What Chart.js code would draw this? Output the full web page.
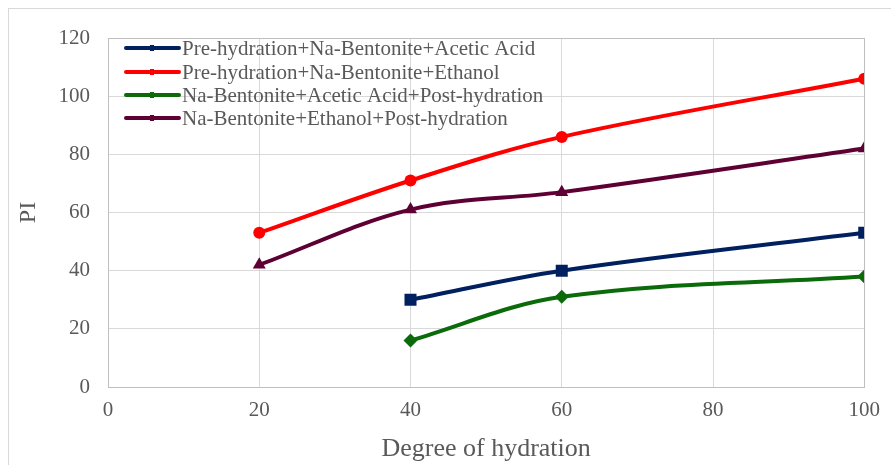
<!DOCTYPE html>
<html>
<head>
<meta charset="utf-8">
<script src="https://cdn.jsdelivr.net/npm/chart.js"></script>
<style>
body{margin:0;background:#fff;}
#wrap{width:891px;height:465px;position:relative;}
</style>
</head>
<body>
<div id="wrap"><canvas id="myChart" width="891" height="465"></canvas></div>
<script>
// values
const hydration=[20,40,60,100];
const labels=['Pre-hydration+Na-Bentonite+Acetic Acid','Pre-hydration+Na-Bentonite+Ethanol','Na-Bentonite+Acetic Acid+Post-hydration','Na-Bentonite+Ethanol+Post-hydration'];
const preAcetic=[null,30,40,53];
const preEthanol=[53,71,86,106];
const postAcetic=[null,16,31,38];
const postEthanol=[42,61,67,82];
const xTicks=[0,20,40,60,80,100];
const yTicks=[0,20,40,60,80,100,120];

const colors=['#002060','#ff0000','#0b6b0b','#5e0034'];
const markers=['rect','circle','rectRot','triangle'];
const sizes=[8.5,6,7,7.5];

const toPoints=vals=>hydration.map((h,i)=>({x:h,y:vals[i]})).filter(p=>p.y!==null);

let datasets=[preAcetic,preEthanol,postAcetic,postEthanol].map((vals,i)=>{
  return {
    label:labels[i],
    data:toPoints(vals),
    borderColor:colors[i],
    backgroundColor:colors[i],
    borderWidth:4,
    pointStyle:markers[i],
    pointRadius:sizes[i],
    pointBorderWidth:0,
    tension:0.35
  }
});

const frame={
  id:'frame',
  beforeDraw(chart){
    const c=chart.ctx;
    c.save();
    c.strokeStyle='#d9d9d9';
    c.lineWidth=1;
    c.strokeRect(8.5,8.5,1000,1000);
    c.restore();
  },
  afterDatasetsDraw(chart){
    const c=chart.ctx, a=chart.chartArea;
    c.save();
    c.strokeStyle='#bfbfbf';
    c.lineWidth=1;
    c.strokeRect(Math.round(a.left)+0.5,Math.round(a.top)+0.5,Math.round(a.right-a.left),Math.round(a.bottom-a.top));
    // legend inside the plot
    const rows=[48,72,95,118];
    chart.data.datasets.forEach((ds,i)=>{
      c.strokeStyle=ds.borderColor;
      c.lineWidth=4;
      c.lineCap='round';
      c.beginPath();
      c.moveTo(126,rows[i]);
      c.lineTo(179,rows[i]);
      c.stroke();
      c.fillStyle=ds.borderColor;
      c.fillRect(150,rows[i]-3,4,6);
      c.fillStyle='#595959';
      c.font='21px "Liberation Serif"';
      c.textBaseline='middle';
      c.textAlign='left';
      c.fillText(ds.label,182,rows[i]+1);
    });
    c.restore();
  }
};

const ctx=document.getElementById('myChart');
new Chart(ctx,{
  type:'line',
  data:{datasets:datasets},
  options:{
    responsive:false,
    animation:false,
    layout:{padding:{left:0,right:25,top:38,bottom:0}},
    plugins:{legend:{display:false},tooltip:{enabled:false}},
    scales:{
      x:{
        type:'linear',
        min:0,max:100,
        afterBuildTicks:s=>{s.ticks=xTicks.map(v=>({value:v}))},
        afterFit:s=>{s.height=78},
        grid:{color:'#d9d9d9',drawTicks:false},
        border:{display:false},
        ticks:{color:'#595959',padding:11,font:{family:'Liberation Serif',size:21}},
        title:{display:true,text:'Degree of hydration',color:'#595959',font:{family:'Liberation Serif',size:26},padding:{top:0,bottom:0}}
      },
      y:{
        min:0,max:120,
        afterBuildTicks:s=>{s.ticks=yTicks.map(v=>({value:v}))},
        afterFit:s=>{s.width=108},
        grid:{color:'#d9d9d9',drawTicks:false},
        border:{display:false},
        ticks:{color:'#595959',padding:18,font:{family:'Liberation Serif',size:21}},
        title:{display:true,text:'PI',color:'#595959',font:{family:'Liberation Serif',size:24},padding:{top:14,bottom:0}}
      }
    }
  },
  plugins:[frame]
});
</script>
</body>
</html>
